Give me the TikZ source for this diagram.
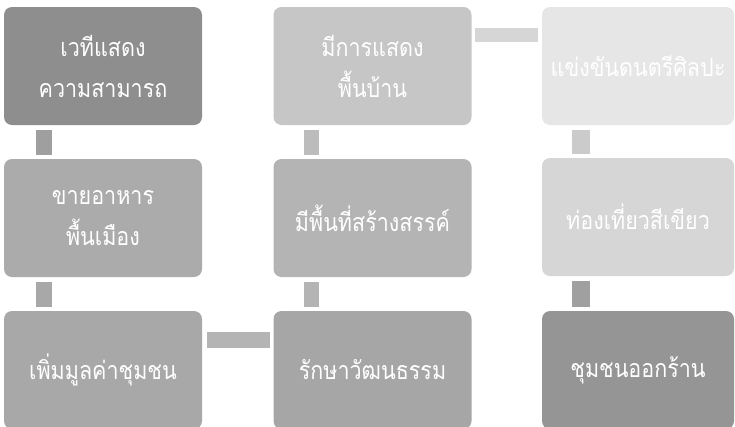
\documentclass[tikz,border=0pt]{standalone}
\usepackage{fontspec}
\newfontfamily\thaifont[Script=Thai,FakeStretch=0.86]{Loma}
\definecolor{grayA}{HTML}{8E8E8E}
\definecolor{grayB}{HTML}{C6C6C6}
\definecolor{grayC}{HTML}{E6E6E6}
\definecolor{grayD}{HTML}{ABABAB}
\definecolor{grayE}{HTML}{B4B4B4}
\definecolor{grayF}{HTML}{D6D6D6}
\definecolor{grayG}{HTML}{A8A8A8}
\definecolor{grayH}{HTML}{A6A6A6}
\definecolor{grayI}{HTML}{959595}
\definecolor{grayJ}{HTML}{A0A0A0}
\tikzset{
  box/.style={rounded corners=8pt,minimum width=198pt,minimum height=118pt,
    inner sep=0pt,align=center,text=white,
    font=\thaifont\fontsize{25}{41}\selectfont},
  link/.style={line width=16pt},
}

\begin{document}
\begin{tikzpicture}[x=1pt,y=-1pt]
          \useasboundingbox (0,0) rectangle (735,426);
          % row 1
          \node[box,fill=grayA] (vethi) at (103,66) {เวทีแสดง\\ความสามารถ};
          \node[box,fill=grayB] (kansadaeng) at (372.5,66) {มีการแสดง\\พื้นบ้าน};
          \node[box,fill=grayC,minimum width=192pt] (khaengkhan) at (638,66) {แข่งขันดนตรีศิลปะ};
          % row 2
          \node[box,fill=grayD] (khaiahan) at (103,218) {ขายอาหาร\\พื้นเมือง};
          \node[box,fill=grayE] (phuenthi) at (372.5,218) {มีพื้นที่สร้างสรรค์};
          \node[box,fill=grayF,minimum width=192pt] (thongthiao) at (638,217) {ท่องเที่ยวสีเขียว};
          % row 3
          \node[box,fill=grayG] (phoem) at (103,370) {เพิ่มมูลค่าชุมชน};
          \node[box,fill=grayH] (raksa) at (372.5,370) {รักษาวัฒนธรรม};
          \node[box,fill=grayI,minimum width=192pt] (chumchon) at (638,370) {ชุมชนออกร้าน};
          % links
          \draw[link,color=grayA!85!white,shorten <=5pt,shorten >=4pt] ([xshift=40pt]vethi.south west) -- ([xshift=40pt]khaiahan.north west);
          \draw[link,color=grayG,shorten <=5pt,shorten >=4pt] ([xshift=40pt]khaiahan.south west) -- ([xshift=40pt]phoem.north west);
          \draw[link,line width=15pt,color=grayB!95!black,shorten <=5pt,shorten >=4pt] ([xshift=38pt]kansadaeng.south west) -- ([xshift=38pt]phuenthi.north west);
          \draw[link,line width=15pt,color=grayE,shorten <=5pt,shorten >=4pt] ([xshift=38pt]phuenthi.south west) -- ([xshift=38pt]raksa.north west);
          \draw[link,line width=14pt,color=grayF,shorten <=3pt,shorten >=4pt] ([yshift=-28pt]kansadaeng.north east) -- ([yshift=-28pt]khaengkhan.north west);
          \draw[link,line width=18pt,color=grayF!95!black,shorten <=5pt,shorten >=4pt] ([xshift=39pt]khaengkhan.south west) -- ([xshift=39pt]thongthiao.north west);
          \draw[link,line width=18pt,color=grayJ,shorten <=5pt,shorten >=4pt] ([xshift=39pt]thongthiao.south west) -- ([xshift=39pt]chumchon.north west);
          \draw[link,color=grayE,shorten <=5pt,shorten >=3pt] ([yshift=-29pt]phoem.north east) -- ([yshift=-29pt]raksa.north west);
        \end{tikzpicture}
\end{document}
